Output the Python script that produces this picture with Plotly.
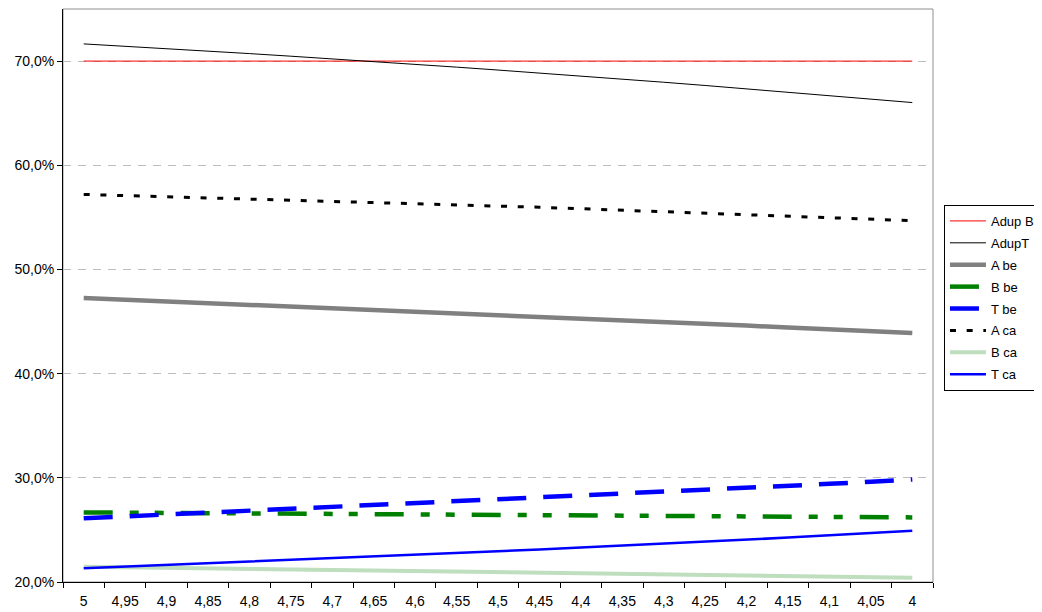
import plotly.graph_objects as go

categories = ["5", "4,95", "4,9", "4,85", "4,8", "4,75", "4,7", "4,65", "4,6", "4,55", "4,5",
              "4,45", "4,4", "4,35", "4,3", "4,25", "4,2", "4,15", "4,1", "4,05", "4"]

adup_b = [70.0] * 21
adup_t = [71.65, 71.43, 71.20, 70.96, 70.72, 70.47, 70.22, 69.96, 69.69, 69.42, 69.14,
          68.86, 68.57, 68.27, 67.97, 67.66, 67.34, 67.02, 66.69, 66.36, 66.02]
a_be = [47.26, 47.10, 46.94, 46.79, 46.63, 46.47, 46.31, 46.15, 45.99, 45.83, 45.66,
        45.48, 45.31, 45.13, 44.96, 44.78, 44.61, 44.43, 44.25, 44.08, 43.90]
b_be = [26.68, 26.66, 26.63, 26.61, 26.58, 26.56, 26.54, 26.51, 26.49, 26.46, 26.44,
        26.42, 26.39, 26.37, 26.34, 26.32, 26.30, 26.27, 26.25, 26.22, 26.20]
t_be = [26.11, 26.29, 26.46, 26.64, 26.81, 26.99, 27.16, 27.34, 27.52, 27.70, 27.88,
        28.07, 28.25, 28.44, 28.62, 28.81, 29.01, 29.21, 29.42, 29.63, 29.85]
a_ca = [57.20, 57.09, 56.99, 56.88, 56.78, 56.67, 56.57, 56.46, 56.35, 56.25, 56.11,
        55.97, 55.83, 55.68, 55.54, 55.40, 55.26, 55.11, 54.97, 54.82, 54.68]
b_ca = [21.47, 21.42, 21.36, 21.31, 21.26, 21.21, 21.15, 21.10, 21.05, 20.99, 20.94,
        20.89, 20.84, 20.78, 20.73, 20.68, 20.62, 20.57, 20.52, 20.46, 20.41]
t_ca = [21.31, 21.47, 21.63, 21.79, 21.95, 22.11, 22.27, 22.43, 22.60, 22.77, 22.94,
        23.12, 23.30, 23.48, 23.67, 23.86, 24.05, 24.26, 24.48, 24.70, 24.92]

y_tickvals = [20, 30, 40, 50, 60, 70]
y_ticktext = ["20,0%", "30,0%", "40,0%", "50,0%", "60,0%", "70,0%"]

series = [
    ("Adup B", adup_b, dict(color="#FF0000", width=1, dash="solid")),
    ("AdupT", adup_t, dict(color="#000000", width=1, dash="solid")),
    ("A be", a_be, dict(color="#808080", width=4.5, dash="solid")),
    ("B be", b_be, dict(color="#008000", width=4.5, dash="29px,17px,9px,16px,9px,17px")),
    ("T be", t_be, dict(color="#0000FF", width=4.5, dash="29px,17px")),
    ("A ca", a_ca, dict(color="#000000", width=3, dash="6px,10.7px")),
    ("B ca", b_ca, dict(color="#BEDEBE", width=4, dash="solid")),
    ("T ca", t_ca, dict(color="#0000FF", width=2.5, dash="solid")),
]

fig = go.Figure()
for name, vals, line in series:
    fig.add_trace(go.Scatter(x=categories, y=vals, name=name, mode="lines", line=line,
                             legendgroup=name))

font = "Liberation Sans, Arial, sans-serif"
fig.update_layout(
    width=1042, height=604,
    margin=dict(l=55, r=117, t=1, b=30, autoexpand=False),
    paper_bgcolor="white", plot_bgcolor="white",
    font=dict(family=font, size=14, color="#000000"),
    showlegend=True,
    legend=dict(x=1.0126, xanchor="left", y=0.658, yanchor="top",
                bordercolor="#000000", borderwidth=1, bgcolor="white",
                font=dict(size=13, family=font), tracegroupgap=2,
                itemwidth=36),
    xaxis=dict(type="category", showgrid=False, showline=True, linecolor="#000000",
               linewidth=1, ticks="outside", tickson="boundaries", ticklen=5,
               tickcolor="#000000", range=[-0.5, 20.5], zeroline=False,
               ticklabelstandoff=6),
    yaxis=dict(range=[20, 75], tickvals=y_tickvals, ticktext=y_ticktext,
               showgrid=True, gridcolor="#BDBDBD", griddash="8px,7px", gridwidth=1,
               showline=True, linecolor="#000000", linewidth=1, ticks="outside",
               ticklen=5, tickcolor="#000000", zeroline=False),
)
fig.add_shape(type="rect", xref="paper", yref="paper", x0=0, y0=0, x1=1, y1=1,
              line=dict(color="#909090", width=1), layer="below")
fig.write_html("out.html")
